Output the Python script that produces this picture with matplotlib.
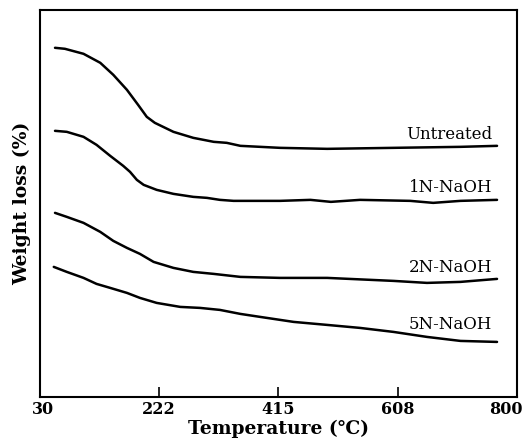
import numpy as np
import matplotlib
matplotlib.use("Agg")
import matplotlib.pyplot as plt
from matplotlib.transforms import ScaledTranslation

plt.rcParams['font.family'] = ['DejaVu Serif']

# values (y in arbitrary units, no scale shown)
t_untreated = [55, 71, 101, 128, 149, 171, 189, 203, 216, 246, 278, 311, 332, 354, 386, 418, 494, 601, 709, 768]
w_untreated = [349, 348, 343, 334, 322, 307, 292, 280, 274, 265, 259, 255, 254, 251, 250, 249, 248, 249, 250, 251]

t_1n = [55, 74, 101, 122, 144, 165, 176, 187, 198, 219, 246, 278, 300, 321, 343, 375, 418, 467, 500, 547, 628, 665, 709, 768]
w_1n = [266, 265, 260, 252, 241, 231, 225, 217, 212, 207, 203, 200, 199, 197, 196, 196, 196, 197, 195, 197, 196, 194, 196, 197]

t_2n = [55, 74, 101, 128, 149, 171, 192, 214, 246, 278, 311, 354, 418, 494, 601, 655, 709, 768]
w_2n = [184, 180, 174, 165, 156, 149, 143, 135, 129, 125, 123, 120, 119, 119, 116, 114, 115, 118]

t_5n = [53, 74, 101, 122, 144, 171, 192, 219, 257, 289, 321, 354, 386, 440, 494, 547, 601, 655, 709, 768]
w_5n = [130, 125, 119, 113, 109, 104, 99, 94, 90, 89, 87, 83, 80, 75, 72, 69, 65, 60, 56, 55]

names = ["Untreated", "1N-NaOH", "2N-NaOH", "5N-NaOH"]
label_y = [262, 209, 129, 72]

xticks = [30, 222, 415, 608, 800]

fig = plt.figure(figsize=(5.24, 4.45), dpi=100)
ax = fig.add_axes([0.0754, 0.108, 0.911, 0.870])

curves = [(t_untreated, w_untreated), (t_1n, w_1n), (t_2n, w_2n), (t_5n, w_5n)]
for (t, w), name, ly in zip(curves, names, label_y):
    ax.plot(t, w, color="black", lw=1.8, solid_capstyle="round", solid_joinstyle="round")
    ax.text(760, ly, name, ha="right", va="center", fontsize=12)

ax.set_xlim(30, 800)
ax.set_ylim(0, 387)
ax.set_xticks(xticks)
ax.set_xticklabels([str(v) for v in xticks], fontsize=11.5, fontweight="bold")
ax.set_yticks([])
ax.tick_params(axis="x", direction="in", length=7, width=1.2, pad=3)
for s in ax.spines.values():
    s.set_linewidth(1.5)

# keep the last tick label inside the figure like the original
lbls = ax.get_xticklabels()
lbls[-1].set_horizontalalignment("right")
lbls[-1].set_transform(lbls[-1].get_transform() + ScaledTranslation(6 / 100, 0, fig.dpi_scale_trans))
lbls[0].set_transform(lbls[0].get_transform() + ScaledTranslation(3 / 100, 0, fig.dpi_scale_trans))

ax.set_xlabel("Temperature (\u2103)", fontsize=13.5, fontweight="bold", labelpad=1)
ax.set_ylabel("Weight loss (%)", fontsize=13.5, fontweight="bold", labelpad=6)

fig.savefig("out.png", dpi=100)
